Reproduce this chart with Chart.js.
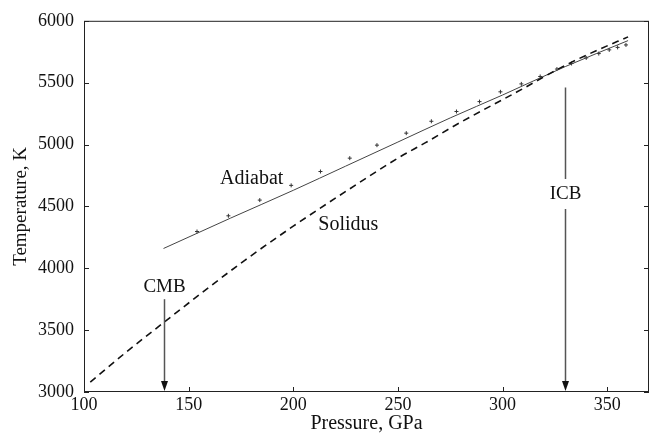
<!DOCTYPE html>
<html>
<head>
<meta charset="utf-8">
<script src="https://cdn.jsdelivr.net/npm/chart.js@4"></script>
<style>
  html, body { margin: 0; padding: 0; background: #fff; }
  canvas { display: block; }
</style>
</head>
<body>
<canvas id="chart" width="654" height="436"></canvas>
<script>
// values
const xTicks = [100, 150, 200, 250, 300, 350];
const yTicks = [3000, 3500, 4000, 4500, 5000, 5500, 6000];

const solidusP = [103, 120, 138, 160, 177, 200, 226, 250, 263, 280, 307, 330, 345, 360];
const solidusT = [3080, 3320, 3560, 3850, 4066, 4340, 4631, 4890, 5013, 5180, 5426, 5640, 5760, 5870];

const adiabatP = [138, 170, 200, 225, 250, 275, 300, 330, 360];
const adiabatT = [4160, 4405, 4630, 4825, 5020, 5215, 5400, 5630, 5840];

const pointsP = [154, 169, 184, 199, 213, 227, 240, 254, 266, 278, 289, 299, 309, 318, 326, 333, 340, 346, 351, 355, 359];
const pointsT = [4297, 4424, 4551, 4670, 4782, 4890, 4995, 5092, 5188, 5267, 5347, 5426, 5490, 5550, 5610, 5655, 5700, 5735, 5765, 5785, 5805];

// boundary markers: pressure, arrow top, label position
const boundaryNames = ['CMB', 'ICB'];
const boundaryP = [138, 330];
const boundaryTop = [3750, 5460];
const boundaryLabelT = [3850, 4600];

const curveLabels = ['Adiabat', 'Solidus'];
const curveLabelP = [165, 212];
const curveLabelT = [4720, 4350];

const FONT = "'Liberation Serif', 'DejaVu Serif', serif";

function pts(xs, ys) {
    return xs.map((x, i) => ({ x: x, y: ys[i] }));
}

const annotate = {
    id: 'annotate',
    afterDatasetsDraw(chart) {
        const ctx = chart.ctx;
        const xs = chart.scales.x;
        const ys = chart.scales.y;
        const a = chart.chartArea;
        ctx.save();

        // frame
        ctx.strokeStyle = '#222';
        ctx.lineWidth = 1;
        ctx.strokeRect(a.left + 0.5, a.top + 0.5, a.right - a.left - 1, a.bottom - a.top - 1);

        // inward ticks
        ctx.beginPath();
        xTicks.forEach(v => {
            const px = Math.round(xs.getPixelForValue(v)) + 0.5;
            ctx.moveTo(px, a.bottom); ctx.lineTo(px, a.bottom - 5);
        });
        yTicks.forEach(v => {
            const py = Math.round(ys.getPixelForValue(v)) + 0.5;
            ctx.moveTo(a.left, py); ctx.lineTo(a.left + 5, py);
            ctx.moveTo(a.right, py); ctx.lineTo(a.right - 5, py);
        });
        ctx.stroke();

        // boundary arrows
        ctx.font = '19px ' + FONT;
        ctx.textAlign = 'center';
        ctx.textBaseline = 'middle';
        boundaryNames.forEach((name, i) => {
            const px = Math.round(xs.getPixelForValue(boundaryP[i])) + 0.5;
            const top = ys.getPixelForValue(boundaryTop[i]);
            const bottom = a.bottom - 1;
            const ly = ys.getPixelForValue(boundaryLabelT[i]);
            ctx.strokeStyle = '#555';
            ctx.lineWidth = 1.5;
            ctx.beginPath();
            if (ly > top) {
                // label sits on the line: leave a gap
                ctx.moveTo(px, top); ctx.lineTo(px, ly - 15);
                ctx.moveTo(px, ly + 15); ctx.lineTo(px, bottom - 8);
            } else {
                ctx.moveTo(px, top); ctx.lineTo(px, bottom - 8);
            }
            ctx.stroke();
            ctx.fillStyle = '#111';
            ctx.beginPath();
            ctx.moveTo(px - 3.5, bottom - 10);
            ctx.lineTo(px + 3.5, bottom - 10);
            ctx.lineTo(px, bottom);
            ctx.closePath();
            ctx.fill();
            ctx.fillText(name, px, ly);
        });

        // curve labels
        ctx.font = '20px ' + FONT;
        curveLabels.forEach((name, i) => {
            ctx.textAlign = 'left';
            ctx.fillText(name, xs.getPixelForValue(curveLabelP[i]), ys.getPixelForValue(curveLabelT[i]));
        });
        ctx.restore();
    }
};

new Chart(document.getElementById('chart'), {
    type: 'line',
    data: {
        datasets: [
            {
                label: 'Solidus',
                data: pts(solidusP, solidusT),
                borderColor: '#111',
                borderWidth: 1.6,
                borderDash: [7, 5],
                pointRadius: 0,
                cubicInterpolationMode: 'monotone'
            },
            {
                label: 'Adiabat',
                data: pts(adiabatP, adiabatT),
                borderColor: '#444',
                borderWidth: 1,
                pointRadius: 0,
                cubicInterpolationMode: 'monotone'
            },
            {
                label: 'Adiabat points',
                data: pts(pointsP, pointsT),
                showLine: false,
                pointStyle: 'cross',
                pointRadius: 2,
                pointBorderWidth: 1,
                pointBorderColor: '#333'
            }
        ]
    },
    options: {
        responsive: false,
        animation: false,
        devicePixelRatio: 1,
        layout: { padding: { top: 15, right: 0, left: 0, bottom: 0 } },
        plugins: {
            legend: { display: false },
            tooltip: { enabled: false }
        },
        scales: {
            x: {
                type: 'linear',
                min: 100,
                max: 370,
                afterFit: s => { s.height = 44; },
                afterBuildTicks: s => { s.ticks = xTicks.map(v => ({ value: v })); },
                grid: { display: false, drawTicks: false },
                border: { display: false },
                ticks: {
                    autoSkip: false,
                    maxRotation: 0,
                    padding: 2,
                    color: '#111',
                    font: { family: FONT, size: 18 },
                    callback: v => String(v)
                },
                title: {
                    display: true,
                    text: 'Pressure, GPa',
                    color: '#111',
                    padding: { top: 0, bottom: 0 },
                    font: { family: FONT, size: 20 }
                }
            },
            y: {
                type: 'linear',
                min: 3000,
                max: 6000,
                afterFit: s => { s.width = 84; },
                afterBuildTicks: s => { s.ticks = yTicks.map(v => ({ value: v })); },
                grid: { display: false, drawTicks: false },
                border: { display: false },
                ticks: {
                    autoSkip: false,
                    padding: 10,
                    color: '#111',
                    font: { family: FONT, size: 18 },
                    callback: v => String(v)
                },
                title: {
                    display: true,
                    text: 'Temperature, K',
                    color: '#111',
                    padding: { top: 10, bottom: 0 },
                    font: { family: FONT, size: 19 }
                }
            }
        }
    },
    plugins: [annotate]
});
</script>
</body>
</html>
